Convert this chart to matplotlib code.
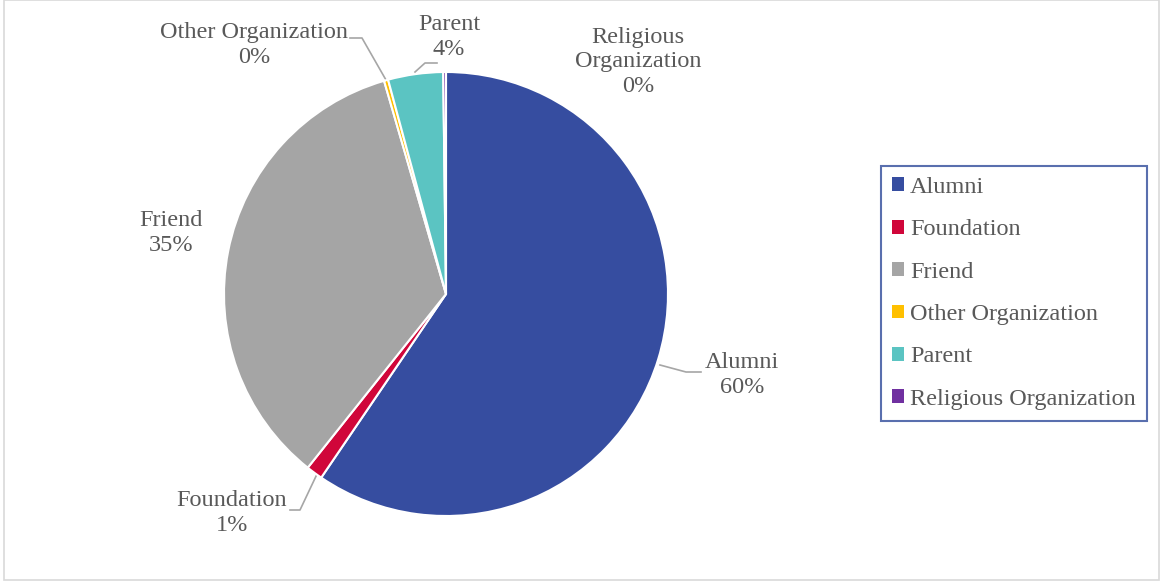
import matplotlib
matplotlib.use("Agg")
import matplotlib.pyplot as plt
from matplotlib.patches import Patch, Rectangle

categories = ["Alumni", "Foundation", "Friend", "Other Organization", "Parent", "Religious Organization"]
values = [59.5, 1.2, 34.8, 0.3, 4.0, 0.2]
colors = ["#364DA0", "#D0063A", "#A5A5A5", "#FFC000", "#5BC4C2", "#7030A0"]
pie_labels = ["Alumni", "Foundation", "Friend", "Other Organization", "Parent", "Religious\nOrganization"]

W, H = 1160, 581
plt.rcParams['font.family'] = ['Liberation Serif', 'DejaVu Serif']
fig = plt.figure(figsize=(W / 100, H / 100), dpi=100)

cx, cy, r = 446, 294, 222
ax = fig.add_axes([(cx - r) / W, (H - cy - r) / H, 2 * r / W, 2 * r / H])
ax.pie(values, colors=colors, startangle=90, counterclock=False, radius=1,
       wedgeprops=dict(edgecolor="white", linewidth=1.5))
ax.set_xlim(-1, 1)
ax.set_ylim(-1, 1)
ax.set_aspect('equal')
ax.axis('off')

def P(px, py):
    return ((px - cx) / r, (cy - py) / r)

tcol = "#595959"
lcol = "#A6A6A6"
FS = 17.5
total = sum(values)
label_pos = [(742, 375), (232, 513), (171, 233), (254, 45), (449, 37), (638, 62)]
for lab, v, (px, py) in zip(pie_labels, values, label_pos):
    x, y = P(px, py)
    ax.text(x, y, f"{lab}\n{round(v / total * 100):.0f}%", ha="center", va="center",
            fontsize=FS, color=tcol, linespacing=1.2, clip_on=False)

leaders = [
    [(660, 365), (686, 372), (701, 372)],
    [(318, 472), (300, 510), (290, 510)],
    [(386, 80), (362, 38), (350, 38)],
    [(415, 72), (425, 63), (437, 63)],
]
for pts in leaders:
    xs, ys = zip(*[P(a, b) for a, b in pts])
    ax.plot(xs, ys, color=lcol, lw=1.2, clip_on=False, zorder=0)

handles = [Patch(facecolor=c, edgecolor="none") for c in colors]
leg = fig.legend(handles, categories, loc="upper left",
                 bbox_to_anchor=(881 / W, 1 - 166 / H), fontsize=FS,
                 frameon=True, fancybox=False, edgecolor="#2F4B9A",
                 handlelength=0.5, handleheight=0.5, handletextpad=0.25,
                 labelspacing=0.88, borderpad=0.45, borderaxespad=0)
leg.get_frame().set_linewidth(1.5)
for t in leg.get_texts():
    t.set_color(tcol)

fig.patches.append(Rectangle((4 / W, 1 / H), (W - 5) / W, (H - 1) / H,
                             transform=fig.transFigure, fill=False,
                             edgecolor="#D9D9D9", lw=1.2))

fig.savefig("out.png", dpi=100)
